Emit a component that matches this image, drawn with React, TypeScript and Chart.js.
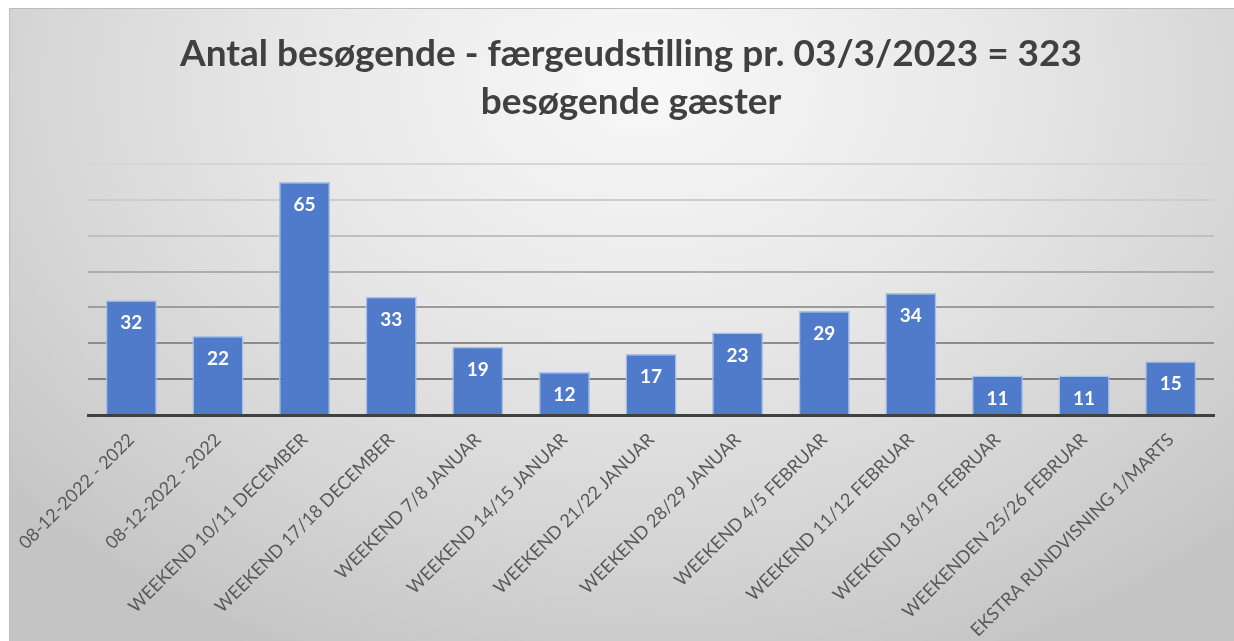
import React, { useEffect, useRef } from "react";
import { Chart, registerables } from "chart.js";

Chart.register(...registerables);

const TITLE_LINES = [
  "Antal besøgende - færgeudstilling pr. 03/3/2023 = 323",
  "besøgende gæster",
];

const CATEGORIES = [
  "08-12-2022 - 2022",
  "08-12-2022 - 2022",
  "WEEKEND 10/11 DECEMBER",
  "WEEKEND 17/18 DECEMBER",
  "WEEKEND 7/8 JANUAR",
  "WEEKEND 14/15 JANUAR",
  "WEEKEND 21/22 JANUAR",
  "WEEKEND 28/29 JANUAR",
  "WEEKEND 4/5 FEBRUAR",
  "WEEKEND 11/12 FEBRUAR",
  "WEEKEND 18/19 FEBRUAR",
  "WEEKENDEN 25/26 FEBRUAR",
  "EKSTRA RUNDVISNING 1/MARTS",
];

const VISITORS = [32, 22, 65, 33, 19, 12, 17, 23, 29, 34, 11, 11, 15];

const Y_MIN = 0;
const Y_MAX = 70;
const Y_STEP = 10;

const W = 1225;
const H = 633;

const GRID_COLORS: Record<number, string> = {
  70: "#d6d6d6",
  60: "#cdcdcd",
  50: "#c0c0c0",
  40: "#adadad",
  30: "#9c9c9c",
  20: "#8c8c8c",
  10: "#7e7e7e",
  0: "rgba(0,0,0,0)",
};

const titlePlugin = {
  id: "customTitle",
  afterDraw(chart: any) {
    const ctx = chart.ctx;
    ctx.save();
    ctx.fillStyle = "#404040";
    ctx.font = "bold 37px Lato";
    ctx.textAlign = "center";
    ctx.textBaseline = "alphabetic";
    ctx.fillText(TITLE_LINES[0], 621, 57);
    ctx.fillText(TITLE_LINES[1], 621, 105);
    ctx.restore();
  },
};

const valueLabelPlugin = {
  id: "valueLabels",
  afterDatasetsDraw(chart: any) {
    const ctx = chart.ctx;
    const meta = chart.getDatasetMeta(0);
    ctx.save();
    ctx.fillStyle = "#ffffff";
    ctx.font = "bold 19px Lato";
    ctx.textAlign = "center";
    ctx.textBaseline = "middle";
    meta.data.forEach((bar: any, i: number) => {
      const v = chart.data.datasets[0].data[i];
      ctx.fillText(String(v), bar.x, bar.y + 23);
    });
    ctx.restore();
  },
};

function ChartView() {
  const ref = useRef<HTMLCanvasElement | null>(null);

  useEffect(() => {
    if (!ref.current) return;
    const chart = new Chart(ref.current, {
      type: "bar",
      data: {
        labels: CATEGORIES,
        datasets: [
          {
            data: VISITORS,
            backgroundColor: "#4f7bca",
            borderColor: "#a9bfe6",
            borderWidth: 1.5,
            categoryPercentage: 1,
            barPercentage: 0.59,
          },
        ],
      },
      options: {
        responsive: false,
        animation: false,
        events: [],
        layout: { padding: { left: 78, right: 21, top: 155, bottom: 0 } },
        plugins: {
          legend: { display: false },
          title: { display: false },
          tooltip: { enabled: false },
        },
        scales: {
          x: {
            afterFit(scale: any) {
              scale.height = 227;
              scale.paddingLeft = 0;
              scale.paddingRight = 0;
            },
            grid: { display: false, drawTicks: false },
            border: { display: true, color: "#404040", width: 3 },
            ticks: {
              autoSkip: false,
              maxRotation: 45,
              minRotation: 45,
              padding: 14,
              color: "#595959",
              font: { family: "Lato", size: 18 },
            },
          },
          y: {
            min: Y_MIN,
            max: Y_MAX,
            afterFit(scale: any) {
              scale.width = 0;
            },
            ticks: { display: false, stepSize: Y_STEP },
            border: { display: false },
            grid: {
              drawTicks: false,
              lineWidth: 2,
              color: (c: any) => GRID_COLORS[c.tick?.value] ?? "#bbbbbb",
            },
          },
        },
      },
      plugins: [titlePlugin, valueLabelPlugin],
    });
    return () => chart.destroy();
  }, []);

  return <canvas ref={ref} width={W} height={H} style={{ display: "block" }} />;
}

export default function App() {
  return (
    <div
      style={{
        position: "absolute",
        left: 9,
        top: 8,
        width: W,
        height: H,
        borderTop: "1px solid #bdbdbd",
        borderLeft: "1px solid #bdbdbd",
        boxSizing: "border-box",
        background:
          "radial-gradient(ellipse 70% 100% at 52% 12%, #f8f8f8 0%, #e8e8e8 40%, #d4d4d4 75%, #c4c4c4 100%)",
        overflow: "hidden",
      }}
    >
      <ChartView />
    </div>
  );
}
